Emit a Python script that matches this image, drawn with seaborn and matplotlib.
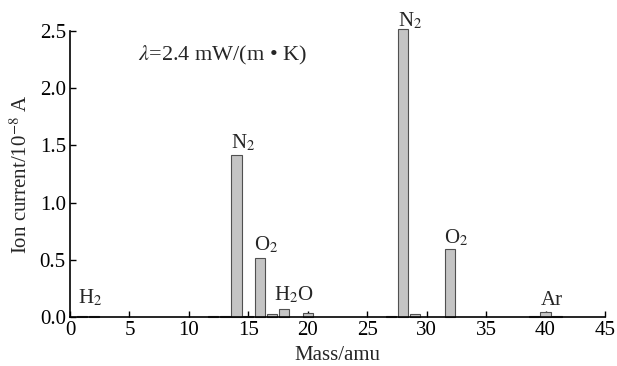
import matplotlib
matplotlib.use("Agg")
import matplotlib.pyplot as plt
import seaborn as sns
import pandas as pd

mass = [1, 2, 12, 13, 14, 15, 16, 17, 18, 20, 27, 28, 29, 32, 39, 40, 41]
current = [0.006, 0.006, 0.006, 0.006, 1.42, 0.004, 0.52, 0.025, 0.07, 0.035,
           0.01, 2.52, 0.025, 0.59, 0.006, 0.045, 0.008]

labels = ["H$_2$", "N$_2$", "O$_2$", "H$_2$O", "N$_2$", "O$_2$", "Ar"]
label_x = [0.65, 13.55, 15.5, 17.2, 27.6, 31.5, 39.6]
label_y = [0.08, 1.435, 0.54, 0.10, 2.50, 0.60, 0.06]

sns.set_theme(style="ticks")
plt.rcParams['font.family'] = ['Liberation Serif', 'DejaVu Serif']
plt.rcParams['mathtext.fontset'] = 'stix'

FS = 15

fig = plt.figure(figsize=(6.17, 3.66), dpi=100)
ax = fig.add_axes([0.1135, 0.134, 0.867, 0.781])

df = pd.DataFrame({"mass": mass, "current": current})
sns.barplot(data=df, x="mass", y="current", native_scale=True, width=0.85,
            color="#c4c4c4", edgecolor="#505050", linewidth=0.8,
            saturation=1, ax=ax)
for p in ax.patches:
    p.set_clip_on(False)

ax.set_xlim(0, 45)
ax.set_ylim(0, 2.5)
ax.set_xticks(range(0, 46, 5))
ax.set_yticks([0, 0.5, 1.0, 1.5, 2.0, 2.5])
ax.set_yticklabels(["0.0", "0.5", "1.0", "1.5", "2.0", "2.5"])
ax.tick_params(direction="in", length=4, width=1, labelsize=FS, colors="black", pad=3)
for s in ["top", "right"]:
    ax.spines[s].set_visible(False)
for s in ["left", "bottom"]:
    ax.spines[s].set_color("black")
    ax.spines[s].set_linewidth(1.2)

ax.set_xlabel("Mass/amu", fontsize=FS, labelpad=4)
ax.set_ylabel("Ion current/10$^{-8}$ A", fontsize=FS, labelpad=6)

for t, x, y in zip(labels, label_x, label_y):
    ax.text(x, y, t, ha="left", va="bottom", fontsize=FS, clip_on=False)

ax.text(5.7, 2.29, r"$\lambda$=2.4 mW/(m • K)", fontsize=16, va="center", ha="left")

fig.savefig("out.png", dpi=100)
